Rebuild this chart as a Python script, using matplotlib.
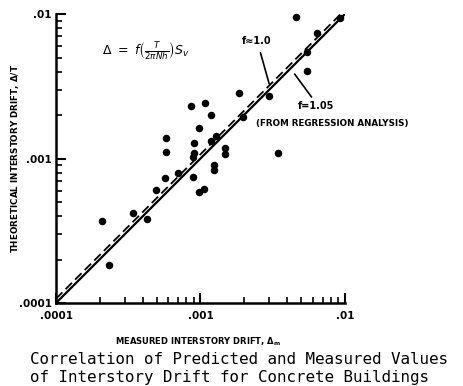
import matplotlib
matplotlib.use("Agg")
import matplotlib.pyplot as plt
import numpy as np
from matplotlib.ticker import LogLocator, FixedLocator, NullFormatter

# Measured interstory drift (x) vs theoretical interstory drift (y)
measured = [2.07e-4, 2.32e-4, 3.40e-4, 4.26e-4, 4.94e-4, 9.77e-4, 1.06e-3,
            5.68e-4, 6.95e-4, 8.91e-4, 1.24e-3, 1.25e-3, 8.91e-4, 9.02e-4,
            5.77e-4, 5.77e-4, 9.06e-4, 1.18e-3, 1.29e-3, 1.48e-3, 1.48e-3,
            9.77e-4, 8.55e-4, 1.08e-3, 1.18e-3, 1.86e-3, 1.98e-3, 3.00e-3,
            3.44e-3, 5.42e-3, 4.58e-3, 6.45e-3, 5.43e-3, 9.23e-3]
theoretical = [3.69e-4, 1.83e-4, 4.23e-4, 3.81e-4, 6.01e-4, 5.91e-4, 6.15e-4,
               7.36e-4, 7.90e-4, 7.48e-4, 9.02e-4, 8.33e-4, 1.03e-3, 1.10e-3,
               1.11e-3, 1.39e-3, 1.29e-3, 1.32e-3, 1.43e-3, 1.19e-3, 1.07e-3,
               1.63e-3, 2.31e-3, 2.43e-3, 2.00e-3, 2.86e-3, 1.93e-3, 2.71e-3,
               1.09e-3, 4.03e-3, 9.46e-3, 7.43e-3, 5.48e-3, 9.38e-3]

# Reference lines: y = ratio * x
line_x = [1e-4, 1e-2]
ratio_solid = 1.0
ratio_dashed = 1.07

tick_vals = [1e-4, 1e-3, 1e-2]
tick_labels = [".0001", ".001", ".01"]

fig = plt.figure(figsize=(4.64, 3.86), dpi=100)
ax = fig.add_axes([0.1207, 0.215, 0.6228, 0.7487])
ax.set_xscale("log")
ax.set_yscale("log")
ax.set_xlim(1e-4, 1e-2)
ax.set_ylim(1e-4, 1e-2)

lx = np.array(line_x)
ax.plot(lx, lx * ratio_solid, color="black", lw=1.6, solid_capstyle="butt", zorder=3)
ax.plot(lx, lx * ratio_dashed, color="black", lw=1.3, dashes=(5, 2.5), zorder=3)
ax.plot(measured, theoretical, "o", color="black", ms=4.4, mec="black", zorder=4,
        clip_on=False)

for side in ("top", "right"):
    ax.spines[side].set_visible(False)
for side in ("left", "bottom"):
    ax.spines[side].set_linewidth(1.8)

ax.xaxis.set_major_locator(FixedLocator(tick_vals))
ax.yaxis.set_major_locator(FixedLocator(tick_vals))
ax.xaxis.set_minor_locator(LogLocator(base=10, subs=np.arange(2, 10)))
ax.yaxis.set_minor_locator(LogLocator(base=10, subs=np.arange(2, 10)))
ax.xaxis.set_minor_formatter(NullFormatter())
ax.yaxis.set_minor_formatter(NullFormatter())
ax.set_xticklabels(tick_labels, fontsize=7.5, fontweight="bold")
ax.set_yticklabels(tick_labels, fontsize=7.5, fontweight="bold")
ax.tick_params(which="major", direction="in", length=7, width=1.5, pad=3)
ax.tick_params(axis="x", which="major", pad=6)
ax.tick_params(which="minor", direction="in", length=4, width=1.2)

fig.text(198 / 464, 1 - 342 / 386,
         r"MEASURED INTERSTORY DRIFT, $\mathbf{\Delta_m}$", fontsize=6.0,
         fontweight="bold", ha="center", va="center")
fig.text(15 / 464, 1 - 158 / 386,
         r"THEORETICAL INTERSTORY DRIFT, $\mathbf{\Delta/T}$", fontsize=6.3,
         fontweight="bold", ha="center", va="center", rotation=90)

ax.text(0.16, 0.87, r"$\Delta\ =\ f\left(\frac{T}{2\pi Nh}\right)S_v$",
        transform=ax.transAxes, fontsize=9, fontweight="bold", va="center")

ax.text(0.695, 0.905, "f\u22481.0", transform=ax.transAxes, fontsize=7,
        fontweight="bold", ha="center", va="center")
ax.annotate("", xy=(0.74, 0.75), xytext=(0.705, 0.875),
            xycoords="axes fraction", textcoords="axes fraction",
            arrowprops=dict(arrowstyle="-", lw=1.2, color="black"))
ax.text(0.9, 0.68, "f=1.05", transform=ax.transAxes, fontsize=7,
        fontweight="bold", ha="center", va="center")
ax.annotate("", xy=(0.82, 0.8), xytext=(0.89, 0.705),
            xycoords="axes fraction", textcoords="axes fraction",
            arrowprops=dict(arrowstyle="-", lw=1.2, color="black"))
ax.text(0.955, 0.62, "(FROM REGRESSION ANALYSIS)", transform=ax.transAxes,
        fontsize=6.3, fontweight="bold", ha="center", va="center")

fig.text(0.065, 0.068, "Correlation of Predicted and Measured Values",
         family="DejaVu Sans Mono", fontsize=11.4, va="center", ha="left")
fig.text(0.065, 0.022, "of Interstory Drift for Concrete Buildings",
         family="DejaVu Sans Mono", fontsize=11.4, va="center", ha="left")

fig.savefig("out.png", dpi=100)
